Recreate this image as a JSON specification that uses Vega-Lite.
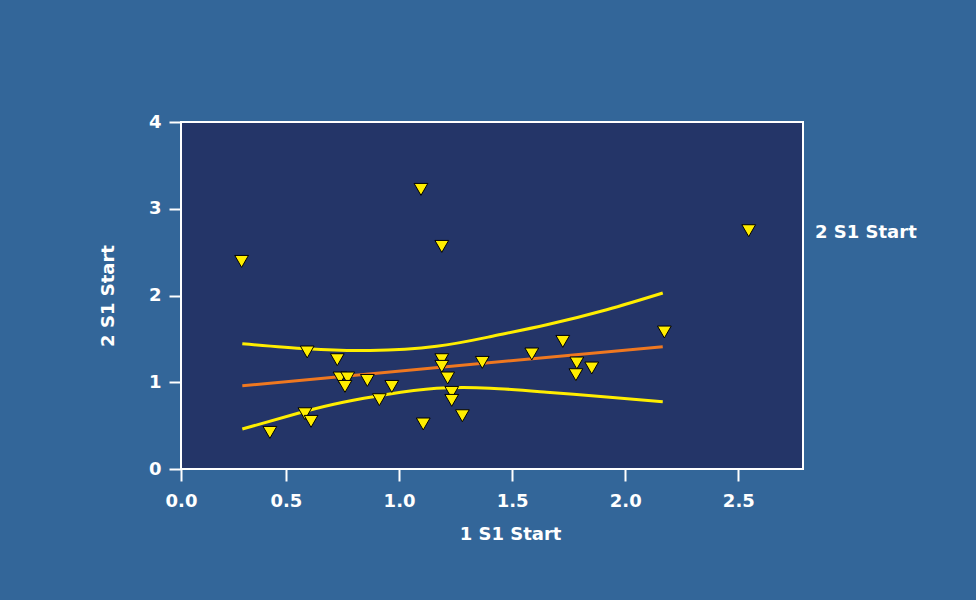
{
  "$schema": "https://vega.github.io/schema/vega-lite/v6.json",
  "width": 622,
  "height": 347,
  "autosize": "none",
  "padding": {"left": 181, "top": 122, "right": 173, "bottom": 131},
  "background": "#336699",
  "config": {
    "view": {"fill": "#243568", "stroke": "#ffffff", "strokeWidth": 2},
    "axis": {
      "grid": false,
      "domain": false,
      "tickColor": "#ffffff",
      "tickWidth": 2,
      "tickSize": 12,
      "labelColor": "#ffffff",
      "labelFont": "DejaVu Sans",
      "labelFontWeight": "bold",
      "labelFontSize": 18,
      "labelOverlap": false,
      "labelFlush": false,
      "titleColor": "#ffffff",
      "titleFont": "DejaVu Sans",
      "titleFontWeight": "bold",
      "titleFontSize": 18
    }
  },
  "datasets": {
    "pts": [
      {"x": 1.097, "y": 3.223}, {"x": 1.189, "y": 2.566}, {"x": 0.304, "y": 2.393},
      {"x": 0.594, "y": 1.349}, {"x": 0.727, "y": 1.260}, {"x": 1.189, "y": 1.260},
      {"x": 1.189, "y": 1.183}, {"x": 1.368, "y": 1.229}, {"x": 0.739, "y": 1.049},
      {"x": 0.773, "y": 1.049}, {"x": 0.761, "y": 0.952}, {"x": 0.860, "y": 1.021},
      {"x": 0.968, "y": 0.952}, {"x": 1.215, "y": 1.049}, {"x": 0.913, "y": 0.799},
      {"x": 1.233, "y": 0.883}, {"x": 1.233, "y": 0.791}, {"x": 1.280, "y": 0.614},
      {"x": 0.584, "y": 0.637}, {"x": 0.611, "y": 0.549}, {"x": 1.107, "y": 0.519},
      {"x": 0.429, "y": 0.422}, {"x": 2.546, "y": 2.747}, {"x": 2.173, "y": 1.579},
      {"x": 1.724, "y": 1.471}, {"x": 1.587, "y": 1.326}, {"x": 1.786, "y": 1.222},
      {"x": 1.852, "y": 1.164}, {"x": 1.782, "y": 1.087}
    ],
    "lines": [
      {"s": "fit", "x": 0.307, "y": 0.960}, {"s": "fit", "x": 2.166, "y": 1.410},
      {"s": "upper", "x": 0.307, "y": 1.444}, {"s": "upper", "x": 0.594, "y": 1.385},
      {"s": "upper", "x": 0.872, "y": 1.366}, {"s": "upper", "x": 1.166, "y": 1.415},
      {"s": "upper", "x": 1.402, "y": 1.525}, {"s": "upper", "x": 1.653, "y": 1.663},
      {"s": "upper", "x": 1.918, "y": 1.836}, {"s": "upper", "x": 2.166, "y": 2.029},
      {"s": "lower", "x": 0.307, "y": 0.461}, {"s": "lower", "x": 0.577, "y": 0.660},
      {"s": "lower", "x": 0.753, "y": 0.770}, {"s": "lower", "x": 0.945, "y": 0.860},
      {"s": "lower", "x": 1.166, "y": 0.930}, {"s": "lower", "x": 1.402, "y": 0.932},
      {"s": "lower", "x": 1.653, "y": 0.885}, {"s": "lower", "x": 1.918, "y": 0.830},
      {"s": "lower", "x": 2.166, "y": 0.776}
    ]
  },
  "encoding": {
    "x": {
      "field": "x", "type": "quantitative",
      "scale": {"domain": [0.036, 2.786], "nice": false, "zero": false},
      "axis": {"values": [0.036, 0.5, 1, 1.5, 2, 2.5], "format": ".1f", "title": "1 S1 Start", "titleX": 329, "labelPadding": 11, "titlePadding": 15}
    },
    "y": {
      "field": "y", "type": "quantitative",
      "scale": {"domain": [0, 4], "nice": false},
      "axis": {"values": [0, 1, 2, 3, 4], "format": "d", "title": "2 S1 Start", "labelPadding": 8, "titlePadding": 31}
    }
  },
  "layer": [
    {
      "data": {"name": "lines"},
      "mark": {"type": "line", "strokeWidth": 3, "interpolate": "natural"},
      "encoding": {
        "color": {
          "field": "s", "type": "nominal",
          "scale": {"domain": ["fit", "lower", "upper"], "range": ["#f07820", "#ffee00", "#ffee00"]},
          "legend": null
        }
      }
    },
    {
      "data": {"name": "pts"},
      "mark": {"type": "point", "shape": "triangle-down", "filled": true, "size": 190, "stroke": "#000000", "strokeWidth": 1, "opacity": 1},
      "encoding": {
        "color": {
          "datum": "2 S1 Start",
          "scale": {"range": ["#ffee00"]},
          "legend": {
            "orient": "none", "legendX": 612, "legendY": 102, "title": null,
            "symbolOpacity": 0, "symbolSize": 0, "symbolStrokeWidth": 0,
            "labelFont": "DejaVu Sans", "labelFontWeight": "bold", "labelFontSize": 18, "labelColor": "#ffffff"
          }
        }
      }
    }
  ],
  "resolve": {"scale": {"color": "independent"}}
}
